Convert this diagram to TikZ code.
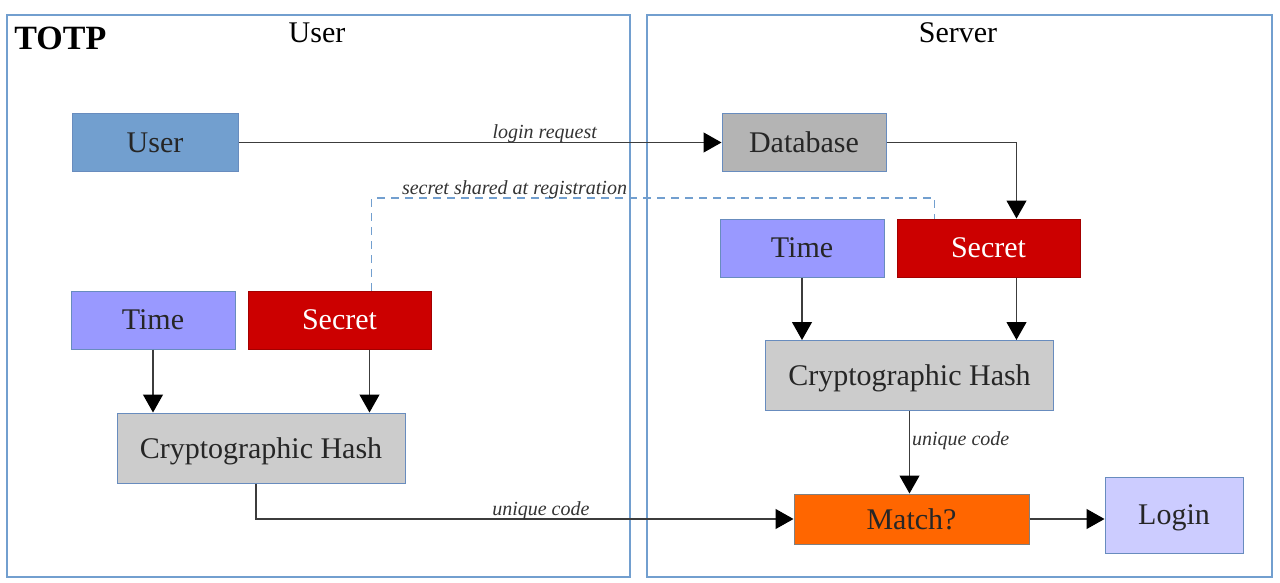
\documentclass[tikz,border=0pt]{standalone}
\usepackage{fontspec}
\setmainfont{Liberation Serif}
\usepackage{xcolor}
\usepackage{tikz}
\usetikzlibrary{positioning,arrows.meta,calc}
\definecolor{lanecol}{RGB}{114,159,207}
\definecolor{edgecol}{RGB}{104,140,190}
\definecolor{userfill}{RGB}{114,159,207}
\definecolor{dbfill}{RGB}{180,180,180}
\definecolor{timefill}{RGB}{153,153,255}
\definecolor{secretfill}{RGB}{204,0,0}
\definecolor{hashfill}{RGB}{204,204,204}
\definecolor{matchfill}{RGB}{255,102,0}
\definecolor{loginfill}{RGB}{204,204,255}
\definecolor{wirecol}{RGB}{60,60,60}
\tikzset{
  lane/.style={draw=lanecol, line width=0.75pt, inner sep=0pt},
  lanetitle/.style={font=\fontsize{15}{18}\selectfont, inner sep=0pt},
  blk/.style={draw=edgecol, line width=0.5pt, inner sep=0pt, minimum height=29pt,
              text depth=0pt, font=\fontsize{15}{18}\selectfont, text=black!85},
  userblk/.style={blk, fill=userfill, minimum width=83pt},
  dbblk/.style={blk, fill=dbfill, minimum width=82pt},
  timeblk/.style={blk, fill=timefill, minimum width=82pt},
  secretblk/.style={blk, fill=secretfill, draw=secretfill!80!black, text=white, minimum width=91.5pt},
  hashblk/.style={blk, fill=hashfill, minimum width=144pt, minimum height=35pt},
  matchblk/.style={blk, fill=matchfill, draw=gray, minimum width=117.5pt, minimum height=25pt},
  loginblk/.style={blk, fill=loginfill, minimum width=69pt, minimum height=38pt}
}
\tikzset{
  flow/.style={-{Triangle[length=9pt, width=10pt, color=black]}, line width=0.6pt, wirecol},
  shared/.style={dashed, dash pattern=on 4pt off 3pt, line width=0.6pt, lanecol},
  elbl/.style={font=\fontsize{10}{12}\selectfont\itshape, text=black!80, inner sep=1pt}
}
\begin{document}
\begin{tikzpicture}[x=0.5pt, y=-0.5pt]
    \useasboundingbox (0,0) rectangle (1280,583);
    \node[lane, minimum width=311.5pt, minimum height=281pt] (userlane) at (318.5,296) {};
    \node[lane, minimum width=312.5pt, minimum height=281pt] (serverlane) at (959.5,296) {};
    \node[lanetitle] (usertitle) at (317,33) {User};
    \node[lanetitle] (servertitle) at (958,33) {Server};
    \node[font=\fontsize{17}{20}\selectfont\bfseries, anchor=west, inner sep=0pt] (totp) at (14,38) {TOTP};
    \node[userblk] (user) at (155,142.5) {User};
    \node[dbblk] (db) at (804,142.5) {Database};
    \node[timeblk] (timeR) at (802,248) {Time};
    \node[secretblk] (secretR) at (988.5,248) {Secret};
    \node[hashblk] (hashR) at (909.5,375.5) {Cryptographic Hash};
    \node[timeblk] (timeL) at (153,320) {Time};
    \node[secretblk] (secretL) at (339.5,320) {Secret};
    \node[hashblk] (hashL) at (261,448) {Cryptographic Hash};
    \node[matchblk] (match) at (911.5,519) {Match?};
    \node[loginblk] (login) at (1174,515) {Login};
    \coordinate (regline) at (0,198);
    \draw[flow] (user.east) -- node[elbl, above=-1.5pt, pos=0.634]{login request} (user.east -| db.west);
    \draw[flow] (db.east) -| ([xshift=14pt]secretR.north);
    \draw[shared] ([xshift=16pt]secretL.north) -- ([xshift=16pt]secretL.north |- regline)
      -- node[elbl, above=-1.5pt, pos=0.254]{secret shared at registration} ([xshift=-27pt]secretR.north |- regline)
      -- ([xshift=-27pt]secretR.north);
    \draw[flow] (timeL.south) -- (timeL.south |- hashL.north);
    \draw[flow] ([xshift=15pt]secretL.south) -- ([xshift=15pt]secretL.south |- hashL.north);
    \draw[flow] (timeR.south) -- (timeR.south |- hashR.north);
    \draw[flow] ([xshift=14pt]secretR.south) -- ([xshift=14pt]secretR.south |- hashR.north);
    \draw[flow] ([xshift=-2.5pt]hashL.south) |- node[elbl, above=-1.5pt, pos=0.765]{unique code} (match.west);
    \draw[flow] (hashR.south) -- node[elbl, right, pos=0.36]{unique code} (hashR.south |- match.north);
    \draw[flow] (match.east) -- (match.east -| login.west);
  \end{tikzpicture}
\end{document}
